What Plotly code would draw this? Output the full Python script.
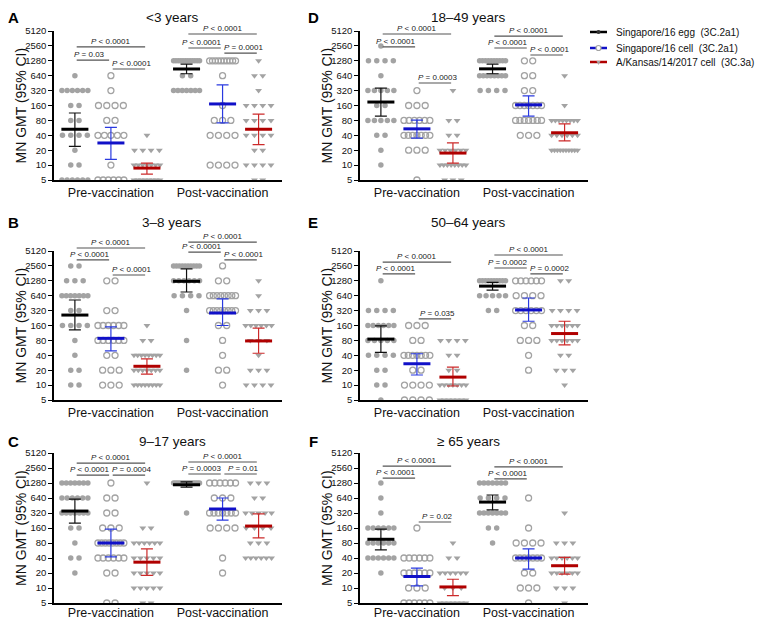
import numpy as np
import plotly.graph_objects as go
from plotly.subplots import make_subplots

# the page body keeps its 8 px margin, so the figure is drawn 16 px smaller
PAGE_W, PAGE_H = 763, 627
OFF = 8
W, H = PAGE_W - 2 * OFF, PAGE_H - 2 * OFF

# titre levels on the y axis
LEVELS = [5, 10, 20, 40, 80, 160, 320, 640, 1280, 2560, 5120]
TICK_TEXT = [str(v) for v in LEVELS]
CATEGORIES = ["Pre-vaccination", "Post-vaccination"]
SERIES = ["Singapore/16 egg  (3C.2a1)", "Singapore/16 cell  (3C.2a1)", "A/Kansas/14/2017 cell  (3C.3a)"]

# counts of subjects at each titre level (5 ... 5120)
# order: pre egg, pre cell, pre Kansas, post egg, post cell, post Kansas
A_COUNTS = [
    [6, 2, 1, 4, 2, 2, 6, 1, 0, 0, 0],
    [6, 1, 0, 5, 2, 4, 1, 1, 0, 0, 0],
    [8, 7, 4, 1, 0, 0, 0, 0, 0, 0, 0],
    [0, 0, 0, 0, 0, 0, 7, 2, 12, 0, 0],
    [0, 4, 0, 4, 3, 1, 0, 1, 10, 0, 0],
    [2, 4, 2, 4, 4, 4, 1, 2, 1, 0, 0],
]
A_GMT = [53, 28, 8.7, 875, 172, 53]
A_LO = [24, 13, 6.6, 700, 71, 26]
A_HI = [113, 58, 11, 1100, 416, 107]

B_COUNTS = [
    [0, 2, 2, 1, 1, 4, 2, 7, 3, 2, 0],
    [0, 3, 3, 2, 6, 6, 2, 0, 2, 0, 0],
    [0, 8, 7, 8, 2, 1, 0, 0, 0, 0, 0],
    [0, 0, 1, 0, 1, 0, 1, 4, 6, 10, 0],
    [0, 1, 2, 1, 1, 2, 8, 8, 2, 1, 0],
    [0, 4, 3, 1, 3, 6, 3, 1, 1, 0, 0],
]
B_GMT = [260, 88, 24, 1250, 286, 78]
B_LO = [130, 49, 16.7, 760, 160, 44]
B_HI = [524, 150, 34, 2220, 550, 142]

C_COUNTS = [
    [0, 0, 1, 2, 1, 2, 7, 6, 7, 0, 0],
    [2, 0, 2, 6, 8, 3, 2, 2, 1, 0, 0],
    [2, 5, 5, 5, 6, 2, 0, 0, 1, 0, 0],
    [0, 0, 0, 0, 0, 0, 1, 0, 14, 0, 0],
    [0, 0, 1, 1, 0, 4, 7, 3, 6, 0, 0],
    [0, 0, 0, 6, 3, 4, 5, 2, 3, 0, 0],
]
C_GMT = [350, 80, 33, 1180, 385, 175]
C_LO = [200, 42, 18, 1060, 230, 101]
C_HI = [610, 152, 61, 1350, 640, 307]

D_COUNTS = [
    [0, 1, 1, 2, 5, 2, 5, 1, 4, 1, 0],
    [1, 0, 3, 7, 6, 3, 1, 0, 0, 0, 0],
    [3, 8, 6, 2, 2, 0, 1, 0, 0, 0, 0],
    [0, 0, 0, 0, 0, 0, 4, 8, 10, 0, 0],
    [0, 0, 0, 3, 7, 7, 2, 2, 2, 0, 0],
    [0, 0, 10, 6, 8, 1, 0, 1, 0, 0, 0],
]
D_GMT = [188, 54, 17.5, 880, 165, 45]
D_LO = [98, 35, 11, 700, 98, 31]
D_HI = [360, 81, 28, 1100, 250, 68]

E_COUNTS = [
    [1, 2, 2, 4, 5, 6, 4, 0, 1, 0, 0],
    [4, 4, 2, 7, 2, 3, 0, 0, 0, 0, 0],
    [7, 7, 2, 2, 4, 0, 0, 0, 0, 0, 0],
    [0, 0, 0, 0, 0, 0, 2, 5, 10, 0, 0],
    [0, 0, 1, 1, 3, 2, 6, 4, 6, 0, 0],
    [0, 1, 3, 2, 6, 6, 4, 0, 2, 0, 0],
]
E_GMT = [85, 27, 14.5, 1000, 330, 110]
E_LO = [46, 16, 9.6, 830, 195, 65]
E_HI = [157, 43, 23, 1190, 575, 195]

F_COUNTS = [
    [0, 0, 1, 6, 6, 6, 1, 1, 1, 0, 0],
    [6, 3, 6, 6, 0, 1, 0, 0, 0, 0, 0],
    [7, 3, 6, 2, 1, 0, 0, 0, 0, 0, 0],
    [0, 0, 0, 0, 1, 2, 7, 4, 7, 0, 0],
    [1, 3, 2, 7, 4, 1, 0, 1, 0, 0, 0],
    [1, 3, 6, 6, 3, 0, 1, 0, 0, 0, 0],
]
F_GMT = [95, 17, 10.5, 530, 40, 28]
F_LO = [58, 11, 7, 370, 24, 19]
F_HI = [152, 25, 15, 735, 61, 41]

# significance brackets: (from group, to group, label)
A_P = [(0, 2, "< 0.0001"), (0, 1, "= 0.03"), (1, 2, "< 0.0001"),
       (3, 5, "< 0.0001"), (3, 4, "< 0.0001"), (4, 5, "= 0.0001")]
B_P = [(0, 2, "< 0.0001"), (0, 1, "< 0.0001"), (1, 2, "< 0.0001"),
       (3, 5, "< 0.0001"), (3, 4, "< 0.0001"), (4, 5, "< 0.0001")]
C_P = [(0, 2, "< 0.0001"), (0, 1, "< 0.0001"), (1, 2, "= 0.0004"),
       (3, 5, "< 0.0001"), (3, 4, "= 0.0003"), (4, 5, "= 0.01")]
D_P = [(0, 2, "< 0.0001"), (0, 1, "< 0.0001"), (1, 2, "= 0.0003"),
       (3, 5, "< 0.0001"), (3, 4, "< 0.0001"), (4, 5, "< 0.0001")]
E_P = [(0, 2, "< 0.0001"), (0, 1, "< 0.0001"), (1, 2, "= 0.035"),
       (3, 5, "< 0.0001"), (3, 4, "= 0.0002"), (4, 5, "= 0.0002")]
F_P = [(0, 2, "< 0.0001"), (0, 1, "< 0.0001"), (1, 2, "= 0.02"),
       (3, 5, "< 0.0001"), (3, 4, "< 0.0001")]

# bracket heights (fraction of the axis height)
A_PY = [0.893, 0.805, 0.745, 0.980, 0.886, 0.852]
B_PY = [1.020, 0.940, 0.839, 1.060, 0.993, 0.940]
C_PY = [0.933, 0.853, 0.853, 0.940, 0.860, 0.860]
D_PY = [0.980, 0.893, 0.651, 0.966, 0.886, 0.839]
E_PY = [0.926, 0.846, 0.544, 0.973, 0.886, 0.846]
F_PY = [0.913, 0.833, 0.540, 0.907, 0.827]

X_POS = [0, 1, 2, 3.1, 4.1, 5.1]
GREY = "#a3a3a3"
MEAN_COL = ["#000000", "#1010c8", "#b00000"]
BAR_COL = ["#111111", "#2a3ae0", "#cc2a2a"]
FONT = "Liberation Sans, Arial, sans-serif"

PANELS = [
    ("A", "<3 years", 1, 1, A_COUNTS, A_GMT, A_LO, A_HI, A_P, A_PY),
    ("D", "18\u201349 years", 1, 2, D_COUNTS, D_GMT, D_LO, D_HI, D_P, D_PY),
    ("B", "3\u20138 years", 2, 1, B_COUNTS, B_GMT, B_LO, B_HI, B_P, B_PY),
    ("E", "50\u201364 years", 2, 2, E_COUNTS, E_GMT, E_LO, E_HI, E_P, E_PY),
    ("C", "9\u201317 years", 3, 1, C_COUNTS, C_GMT, C_LO, C_HI, C_P, C_PY),
    ("F", "\u2265 65 years", 3, 2, F_COUNTS, F_GMT, F_LO, F_HI, F_P, F_PY),
]

# page-pixel geometry of the plot areas and panel headings
COL_PX = {1: (54, 282), 2: (360, 588)}
ROW_PX = {1: (31, 180), 2: (251, 400), 3: (453, 603)}
TITLE_PY = {1: 17, 2: 223, 3: 441}
LETTER_PY = {1: 17, 2: 222, 3: 441}


def px_x(px):
    return (px - OFF) / W


def px_y(py):
    return 1 - (py - OFF) / H


def swarm(n):
    if n <= 1:
        return np.zeros(n)
    step = min(0.23, 0.72 / (n - 1))
    return (np.arange(n) - (n - 1) / 2) * step


fig = make_subplots(rows=3, cols=2)

annotations = []
shapes = []
for idx, (letter, title, r, c, counts, gmt, lo, hi, pv, py) in enumerate(PANELS):
    ax = idx + 1
    xs = "x" if ax == 1 else f"x{ax}"
    ys = "y" if ax == 1 else f"y{ax}"
    for g in range(6):
        kind = g % 3
        px_, py_ = [], []
        for lev, n in zip(LEVELS, counts[g]):
            px_ += list(X_POS[g] + swarm(n))
            py_ += [lev] * n
        if kind == 0:
            mk = dict(symbol="circle", size=5.5, color=GREY)
        elif kind == 1:
            mk = dict(symbol="circle-open", size=6, color=GREY, line=dict(width=1.3, color=GREY))
        else:
            mk = dict(symbol="triangle-down", size=6, color=GREY)
        fig.add_trace(go.Scatter(x=px_, y=py_, mode="markers", marker=mk,
                                 showlegend=False, hoverinfo="skip"), row=r, col=c)
    for g in range(6):
        kind = g % 3
        fig.add_trace(go.Scatter(
            x=[X_POS[g]], y=[gmt[g]], mode="markers",
            marker=dict(size=1, color=BAR_COL[kind]),
            error_y=dict(type="data", symmetric=False, array=[hi[g] - gmt[g]],
                         arrayminus=[gmt[g] - lo[g]], width=6, thickness=1.2,
                         color=BAR_COL[kind]),
            showlegend=False, hoverinfo="skip"), row=r, col=c)
        fig.add_trace(go.Scatter(
            x=[X_POS[g] - 0.375, X_POS[g] + 0.375], y=[gmt[g], gmt[g]], mode="lines",
            line=dict(color=MEAN_COL[kind], width=3),
            showlegend=False, hoverinfo="skip"), row=r, col=c)

    x0p, x1p = COL_PX[c]
    y0p, y1p = ROW_PX[r]
    fig.update_xaxes(domain=[px_x(x0p), px_x(x1p)], range=[-0.58, 5.75], tickvals=[1, 4.1],
                     ticktext=CATEGORIES, ticks="", showgrid=False, zeroline=False,
                     showline=True, linecolor="black", linewidth=1.5, automargin=False,
                     ticklabelstandoff=(-3 if r == 3 else 0),
                     tickfont=dict(size=12.5, color="#111", family=FONT), row=r, col=c)
    fig.update_yaxes(domain=[px_y(y1p), px_y(y0p)], type="log",
                     range=[np.log10(5), np.log10(5120)],
                     tickvals=LEVELS, ticktext=TICK_TEXT, ticks="outside", ticklen=4,
                     tickwidth=1.2, tickcolor="black", showgrid=False, zeroline=False,
                     showline=True, linecolor="black", linewidth=1.5, automargin=False,
                     tickfont=dict(size=9.5, color="#111", family=FONT), row=r, col=c)

    for (i, j, lab), yf in zip(pv, py):
        shapes.append(dict(type="line", xref=xs, yref=f"{ys} domain",
                           x0=X_POS[i] + 0.05, x1=X_POS[j] - 0.05, y0=yf, y1=yf,
                           line=dict(color="#555", width=1.2)))
        shift = 0 if j - i == 2 else (-3 if i % 3 == 0 else 3)
        annotations.append(dict(xref=xs, yref=f"{ys} domain", x=(X_POS[i] + X_POS[j]) / 2,
                                y=yf, xanchor="center", yanchor="bottom", showarrow=False,
                                xshift=shift, yshift=-1,
                                text=f"<i>P</i> {lab.replace('<', '&lt;')}",
                                font=dict(size=8, color="#222", family=FONT)))

    cx = (x0p + x1p) / 2 + (4 if c == 1 else -6)
    annotations.append(dict(xref="paper", yref="paper", x=px_x(cx), y=px_y(TITLE_PY[r]),
                            xanchor="center", yanchor="middle", text=title, showarrow=False,
                            font=dict(size=13.5, color="#111", family=FONT)))
    annotations.append(dict(xref="paper", yref="paper",
                            x=px_x(13 if c == 1 else 313), y=px_y(LETTER_PY[r]),
                            xanchor="center", yanchor="middle",
                            text=f"<b>{letter}</b>", showarrow=False,
                            font=dict(size=15, color="black", family=FONT)))
    annotations.append(dict(xref="paper", yref="paper",
                            x=px_x(21 if c == 1 else 327), y=px_y((y0p + y1p) / 2),
                            xanchor="center", yanchor="middle",
                            text="MN GMT (95% CI)", textangle=-90, showarrow=False,
                            font=dict(size=14, color="#111", family=FONT)))

# legend drawn by hand
LEG_Y = [32, 48, 62]
for k, name in enumerate(SERIES):
    yy = px_y(LEG_Y[k])
    shapes.append(dict(type="line", xref="paper", yref="paper", x0=px_x(590), x1=px_x(607),
                       y0=yy, y1=yy, line=dict(color=MEAN_COL[k], width=2.5)))
    annotations.append(dict(xref="paper", yref="paper", x=px_x(614), y=yy,
                            xanchor="left", yanchor="middle",
                            text=name, showarrow=False,
                            font=dict(size=10, color="#111", family=FONT)))
shapes.append(dict(type="circle", xref="paper", yref="paper", x0=px_x(596.5), x1=px_x(600.5),
                   y0=px_y(34), y1=px_y(30), fillcolor="#333", line=dict(width=0)))
shapes.append(dict(type="circle", xref="paper", yref="paper", x0=px_x(596), x1=px_x(601),
                   y0=px_y(50.5), y1=px_y(45.5), fillcolor="white",
                   line=dict(color=GREY, width=1.2)))
tri = (f"M {px_x(596.5)},{px_y(61)} L {px_x(600.5)},{px_y(61)} "
       f"L {px_x(598.5)},{px_y(65)} Z")
shapes.append(dict(type="path", xref="paper", yref="paper", path=tri,
                   fillcolor=GREY, line=dict(width=0)))

fig.update_layout(width=W, height=H, margin=dict(l=0, r=0, t=0, b=0),
                  plot_bgcolor="white", paper_bgcolor="white", showlegend=False,
                  annotations=annotations, shapes=shapes,
                  font=dict(family=FONT))
fig.write_html("out.html")
